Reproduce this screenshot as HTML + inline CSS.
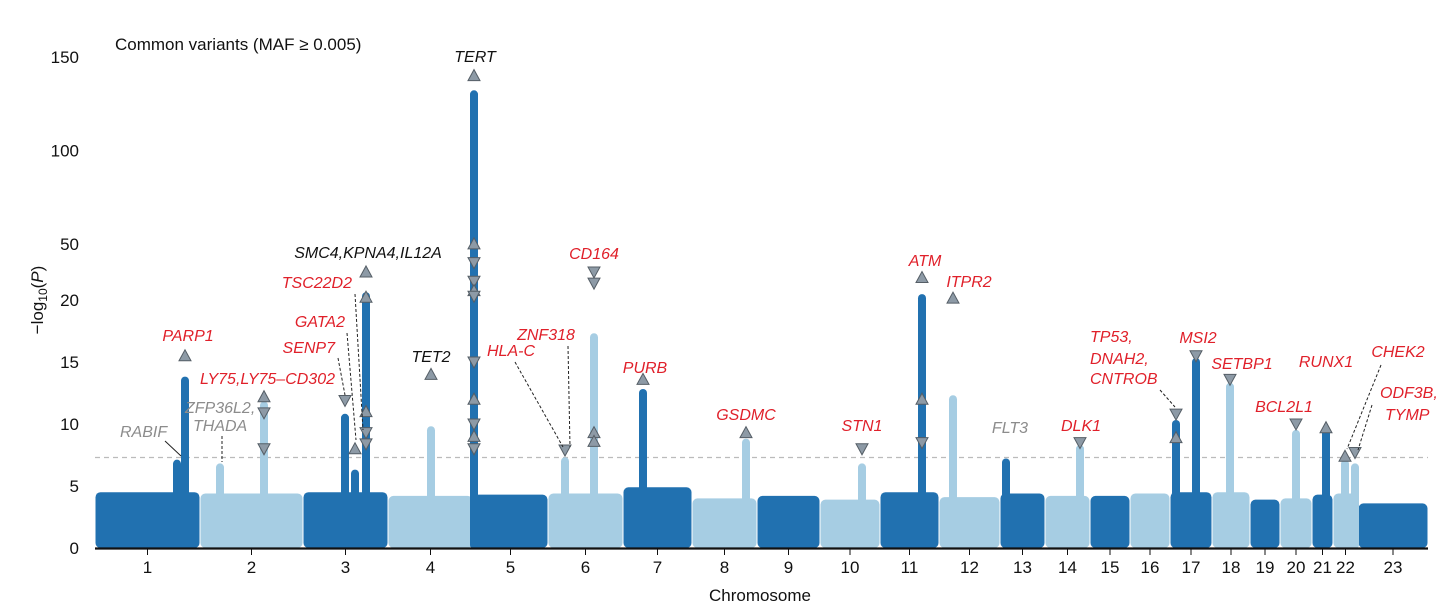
<!DOCTYPE html>
<html><head><meta charset="utf-8">
<style>
html,body{margin:0;padding:0;background:#fff;}
svg{display:block;font-family:"Liberation Sans",Arial,sans-serif;}
.lab{font-style:italic;font-size:16px;}
.red{fill:#e0202a;} .blk{fill:#111;} .gry{fill:#8c8c8c;}
.tick{font-size:17px;fill:#111;}
</style></head>
<body>
<svg id="chart" width="1456" height="612" viewBox="0 0 1456 612">
  <g id="bg"></g>
  <line x1="95" x2="1428" y1="457.5" y2="457.5" stroke="#bbb" stroke-width="1.2" stroke-dasharray="5,4"/>
  <g id="peaks"></g>
  <g id="tris"></g>
  <line x1="95" x2="1428" y1="548.5" y2="548.5" stroke="#111" stroke-width="2.2"/>
  <g id="yticks"></g>
  <g id="xticks"></g>
  <text x="760" y="601" text-anchor="middle" font-size="17" fill="#111">Chromosome</text>
  <text transform="translate(43,300) rotate(-90)" text-anchor="middle" font-size="17" fill="#111">−log<tspan font-size="12" dy="4">10</tspan><tspan dy="-4">(</tspan><tspan font-style="italic">P</tspan>)</text>
  <text x="115" y="50" font-size="17" fill="#111">Common variants (MAF ≥ 0.005)</text>

  <g stroke="#222" stroke-width="1" fill="none">
    <line x1="165" y1="441" x2="181" y2="456"/>
    <line x1="222" y1="436" x2="222" y2="462" stroke-dasharray="3,2"/>
    <line x1="355" y1="294" x2="363" y2="430" stroke-dasharray="3,2"/>
    <line x1="347" y1="333" x2="356" y2="440" stroke-dasharray="3,2"/>
    <line x1="338" y1="358" x2="345" y2="395" stroke-dasharray="3,2"/>
    <line x1="515" y1="362" x2="563" y2="447" stroke-dasharray="3,2"/>
    <line x1="568" y1="346" x2="570" y2="447" stroke-dasharray="3,2"/>
    <line x1="1160" y1="390" x2="1175" y2="407" stroke-dasharray="3,2"/>
    <line x1="1381" y1="365" x2="1347" y2="449" stroke-dasharray="3,2"/>
    <line x1="1372" y1="405" x2="1358" y2="450" stroke-dasharray="3,2"/>
  </g>

  <g>
    <text class="lab blk" x="475" y="62" text-anchor="middle">TERT</text>
    <text class="lab blk" x="368" y="258" text-anchor="middle">SMC4,KPNA4,IL12A</text>
    <text class="lab red" x="352" y="288" text-anchor="end">TSC22D2</text>
    <text class="lab red" x="345" y="327" text-anchor="end">GATA2</text>
    <text class="lab red" x="335" y="353" text-anchor="end">SENP7</text>
    <text class="lab red" x="335" y="384" text-anchor="end">LY75,LY75–CD302</text>
    <text class="lab red" x="188" y="341" text-anchor="middle">PARP1</text>
    <text class="lab gry" x="185" y="413">ZFP36L2,</text>
    <text class="lab gry" x="193" y="431">THADA</text>
    <text class="lab gry" x="120" y="437">RABIF</text>
    <text class="lab blk" x="431" y="362" text-anchor="middle">TET2</text>
    <text class="lab red" x="546" y="340" text-anchor="middle">ZNF318</text>
    <text class="lab red" x="511" y="356" text-anchor="middle">HLA-C</text>
    <text class="lab red" x="594" y="259" text-anchor="middle">CD164</text>
    <text class="lab red" x="645" y="373" text-anchor="middle">PURB</text>
    <text class="lab red" x="746" y="420" text-anchor="middle">GSDMC</text>
    <text class="lab red" x="862" y="431" text-anchor="middle">STN1</text>
    <text class="lab red" x="925" y="266" text-anchor="middle">ATM</text>
    <text class="lab red" x="969" y="287" text-anchor="middle">ITPR2</text>
    <text class="lab gry" x="1010" y="433" text-anchor="middle">FLT3</text>
    <text class="lab red" x="1081" y="431" text-anchor="middle">DLK1</text>
    <text class="lab red" x="1090" y="342">TP53,</text>
    <text class="lab red" x="1090" y="364">DNAH2,</text>
    <text class="lab red" x="1090" y="384">CNTROB</text>
    <text class="lab red" x="1198" y="343" text-anchor="middle">MSI2</text>
    <text class="lab red" x="1242" y="369" text-anchor="middle">SETBP1</text>
    <text class="lab red" x="1284" y="412" text-anchor="middle">BCL2L1</text>
    <text class="lab red" x="1326" y="367" text-anchor="middle">RUNX1</text>
    <text class="lab red" x="1398" y="357" text-anchor="middle">CHEK2</text>
    <text class="lab red" x="1380" y="398">ODF3B,</text>
    <text class="lab red" x="1385" y="420">TYMP</text>
  </g>
</svg>
<script>
const chromNames = ['1','2','3','4','5','6','7','8','9','10','11','12','13','14','15','16','17','18','19','20','21','22','23'];
const chromLen = [105,103,85,85,75,75,69,65,63,60,59,61,45,45,40,40,42,38,30,32,21,25,70];
const bgLevel = [4.5,4.4,4.5,4.2,4.3,4.4,4.9,4.0,4.2,3.9,4.5,4.1,4.4,4.2,4.2,4.4,4.5,4.5,3.9,4.0,4.3,4.4,3.6];
const yTickVals = [0,5,10,15,20,50,100,150];

const peakChr = [1,1,2,2,3,3,3,4,5,6,6,7,8,10,11,12,13,14,17,17,18,20,21,22,22];
const peakPos = [90,82,64,20,42,52,63,43,1,17,46,20,54,42,42,14,6,35,6,26,18,16,14,12,22];
const peakVal = [13.5,6.8,11.5,6.5,10.5,6,22,9.5,130,7,17,12.5,8.5,6.5,21,12,6.9,8,10,15,13,9.2,9.5,6.8,6.5];

const triChr = [1,2,2,2,3,3,3,3,3,3,3,4,5,5,5,5,5,5,5,5,5,5,5,6,6,6,6,6,7,8,10,11,11,11,12,14,17,17,17,18,20,21,22,22];
const triPos = [90,64,64,64,42,52,63,63,63,63,63,43,1,1,1,1,1,1,1,1,1,1,1,17,46,46,46,46,20,54,42,42,42,42,14,35,6,6,26,18,16,14,12,22];
const triVal = [15.5,12.2,10.9,8,11.9,8,35,21.5,11,9.3,8.4,14,140,50,40,30,25,22,15,12,10,9,8,7.9,35,29,9.3,8.6,13.6,9.3,8,32,12,8.5,21,8.5,10.8,8.9,15.5,13.6,10,9.7,7.4,7.7];
const triUp = [1,1,0,0,0,1,1,1,1,0,0,1,1,1,0,0,1,0,0,1,0,1,0,0,0,0,1,1,1,1,0,1,1,0,1,0,0,1,0,0,0,1,1,0];

const X0 = 95;
const chromStart = [];
let acc = 0;
for (const l of chromLen) { chromStart.push(acc); acc += l; }
const totalLen = acc;
function xScale(ci, pos) { return X0 + (chromStart[ci] + pos) / totalLen * 1333; }
function yScale(v) { return v <= 20 ? 548 - v * 12.4 : 300 - (v - 20) * 1.87; }
function color(ci) { return ci % 2 === 0 ? '#2171b0' : '#a6cde3'; }
const NS = 'http://www.w3.org/2000/svg';
function mk(tag, attrs, parent) { const e = document.createElementNS(NS, tag); for (const k in attrs) e.setAttribute(k, attrs[k]); parent.appendChild(e); return e; }

const bg = document.getElementById('bg');
chromNames.forEach((n, i) => {
  const x1 = xScale(i, 0.5), x2 = xScale(i, chromLen[i] - 0.5);
  const r = mk('rect', {x: x1, y: yScale(bgLevel[i]), width: x2 - x1, height: 548 - yScale(bgLevel[i]), rx: 5, fill: color(i)}, bg);
  
  
});

const pk = document.getElementById('peaks');
peakChr.forEach((c, i) => {
  const ci = c - 1, x = xScale(ci, peakPos[i]);
  const l = mk('line', {x1: x, x2: x, y1: 545, y2: yScale(peakVal[i]), stroke: color(ci), 'stroke-width': 8, 'stroke-linecap': 'round'}, pk);
  
  
});

const tr = document.getElementById('tris');
triChr.forEach((c, i) => {
  const ci = c - 1, x = xScale(ci, triPos[i]), y = yScale(triVal[i]);
  const pts = triUp[i] ? `${x-6},${y+5} ${x+6},${y+5} ${x},${y-6}` : `${x-6},${y-5} ${x+6},${y-5} ${x},${y+6}`;
  const p = mk('polygon', {points: pts, fill: '#8d9aa6', stroke: '#555e66', 'stroke-width': 1}, tr);
  
  
});

const yt = document.getElementById('yticks');
yTickVals.forEach(v => {
  const t = mk('text', {x: 79, y: yScale(v) + 6, 'text-anchor': 'end', class: 'tick'}, yt);
  t.textContent = v;
  
  
});

const xt = document.getElementById('xticks');
chromNames.forEach((n, i) => {
  const x = xScale(i, chromLen[i] / 2);
  const l = mk('line', {x1: x, x2: x, y1: 549, y2: 555, stroke: '#111', 'stroke-width': 1}, xt);
  
  
  const t = mk('text', {x: x, y: 573, 'text-anchor': 'middle', class: 'tick'}, xt);
  t.textContent = n;
  
  
});
</script>
</body></html>
